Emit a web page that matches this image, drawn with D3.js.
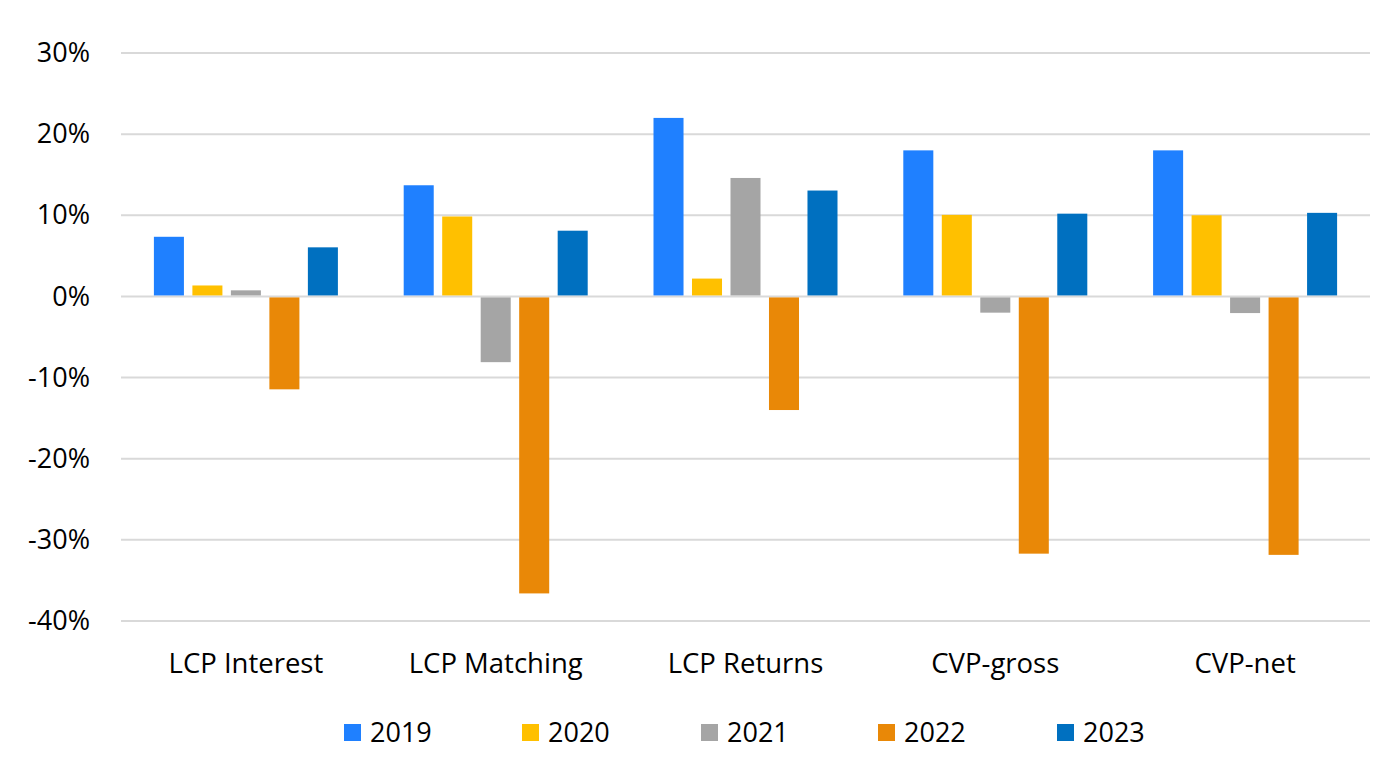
<!DOCTYPE html>
<html><head><meta charset="utf-8">
<script src="https://cdn.jsdelivr.net/npm/d3@7"></script>
<style>
html,body{margin:0;padding:0;background:#fff;}
text{font-family:"Open Sans",sans-serif;fill:#000;}
</style></head>
<body>
<svg id="chart" width="1400" height="769"></svg>
<script>
const categories = ["LCP Interest","LCP Matching","LCP Returns","CVP-gross","CVP-net"];
const years = ["2019","2020","2021","2022","2023"];
const v2019 = [7.35, 13.7, 22.0, 18.0, 18.0];
const v2020 = [1.35, 9.85, 2.2, 10.05, 10.0];
const v2021 = [0.75, -8.1, 14.6, -2.0, -2.05];
const v2022 = [-11.45, -36.6, -14.0, -31.7, -31.85];
const v2023 = [6.05, 8.1, 13.05, 10.2, 10.3];
const yTicks = [30, 20, 10, 0, -10, -20, -30, -40];
const colors = ["#1f80ff","#ffc000","#a5a5a5","#e98807","#0070c0"];

(function () {
const series = [v2019, v2020, v2021, v2022, v2023];
const svg = d3.select("#chart");
const mLeft = 121, mRight = 1370, mTop = 53, mBottom = 621;

const y = d3.scaleLinear().domain([-40, 30]).range([mBottom, mTop]);
const x0 = d3.scaleBand().domain(categories).range([mLeft, mRight]).padding(0);
const groupW = 184;
const x1 = d3.scaleBand().domain(years).range([0, groupW]).paddingInner(0.22);
const color = d3.scaleOrdinal().domain(years).range(colors);

// gridlines
svg.append("g").selectAll("line").data(yTicks).join("line")
  .attr("x1", mLeft).attr("x2", mRight)
  .attr("y1", d => y(d)).attr("y2", d => y(d))
  .attr("stroke", "#d9d9d9").attr("stroke-width", 2);

// y axis labels
const yAxis = d3.axisLeft(y).tickValues(yTicks).tickSize(0).tickPadding(0)
  .tickFormat(d => d + "%");
const ya = svg.append("g").attr("transform", `translate(90,0)`).call(yAxis);
ya.select(".domain").remove();
ya.selectAll("text").attr("font-size", 27).attr("font-family", "Open Sans").attr("fill", "#000");

// bars
const groups = svg.append("g").selectAll("g").data(categories).join("g")
  .attr("transform", d => `translate(${x0(d) + (x0.bandwidth() - groupW) / 2},0)`);
groups.selectAll("rect").data((c, i) => years.map((yr, j) => ({yr, v: series[j][i]})))
  .join("rect")
  .attr("x", d => x1(d.yr))
  .attr("width", x1.bandwidth())
  .attr("y", d => d.v >= 0 ? y(d.v) : y(0) + 1)
  .attr("height", d => d.v >= 0 ? y(0) - 1 - y(d.v) : y(d.v) - y(0) - 1)
  .attr("fill", d => color(d.yr));

// x axis labels
const xAxis = d3.axisBottom(x0).tickSize(0).tickPadding(0);
const xa = svg.append("g").attr("transform", `translate(0,${mBottom + 32})`).call(xAxis);
xa.select(".domain").remove();
xa.selectAll("text").attr("font-size", 27.5).attr("font-family", "Open Sans").attr("fill", "#000");

// legend
const legX = [344, 522, 701, 878, 1057];
const leg = svg.append("g").selectAll("g").data(years).join("g")
  .attr("transform", (d, i) => `translate(${legX[i]},733)`);
leg.append("rect").attr("x", 0).attr("y", -9).attr("width", 17).attr("height", 17)
  .attr("fill", d => color(d));
leg.append("text").attr("x", 26).attr("y", 0).attr("dy", "0.35em")
  .attr("font-size", 27).text(d => d);
})();
</script>
</body></html>
